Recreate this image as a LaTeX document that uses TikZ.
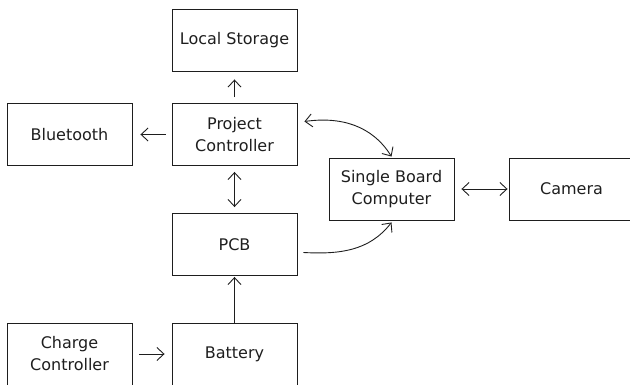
\documentclass[tikz,border=0pt]{standalone}
\usepackage{fontspec}
\setmainfont{DejaVu Sans}
\usetikzlibrary{arrows.meta}
\definecolor{ink}{HTML}{1E1E1E}
\begin{document}
\begin{tikzpicture}[x=1pt,y=-1pt,
  tip/.tip={Straight Barb[length=7pt,width=13pt,line width=0.9pt]},
  blk/.style={draw=ink,line width=0.9pt,minimum width=125pt,minimum height=62pt,inner sep=0pt,
    align=center,text=ink,font=\fontsize{16}{22}\selectfont},
  conn/.style={draw=ink,line width=0.9pt,-tip},
  conn2/.style={draw=ink,line width=0.9pt,tip-tip}]
\useasboundingbox (0,0) rectangle (630,384);
\clip (0,0) rectangle (630,384);
\node[blk] (ls)  at (234.5,40)  {Local Storage};
\node[blk] (pc)  at (234.5,134.5) {Project\\Controller};
\node[blk] (bt)  at (69.5,134.5) {Bluetooth};
\node[blk] (pcb) at (234.5,244.5) {PCB};
\node[blk] (bat) at (234.5,354) {Battery};
\node[blk] (cc)  at (69.5,354) {Charge\\Controller};
\node[blk] (sbc) at (391.5,189) {Single Board\\Computer};
\node[blk] (cam) at (571.5,189) {Camera};
\draw[conn] ([yshift=6pt]pc.north) -- ([yshift=-8pt]ls.south);
\draw[conn] ([xshift=-6pt]pc.west) -- ([xshift=8pt]bt.east);
\draw[conn2] ([yshift=-6pt]pc.south) -- ([yshift=6pt]pcb.north);
\draw[conn] (bat.north) -- ([yshift=-1pt]pcb.south);
\draw[conn] ([xshift=7pt]cc.east) -- ([xshift=-7pt]bat.west);
\draw[conn2] ([xshift=7pt]sbc.east) -- ([xshift=-1pt]cam.west);
\draw[conn2] ([xshift=7pt,yshift=13pt]pc.east) to[out=8,in=122] ([yshift=1pt]sbc.north);
\draw[conn] ([xshift=6pt,yshift=-8pt]pcb.east) to[out=-3,in=-128] ([yshift=-2pt]sbc.south);
\end{tikzpicture}
\end{document}
